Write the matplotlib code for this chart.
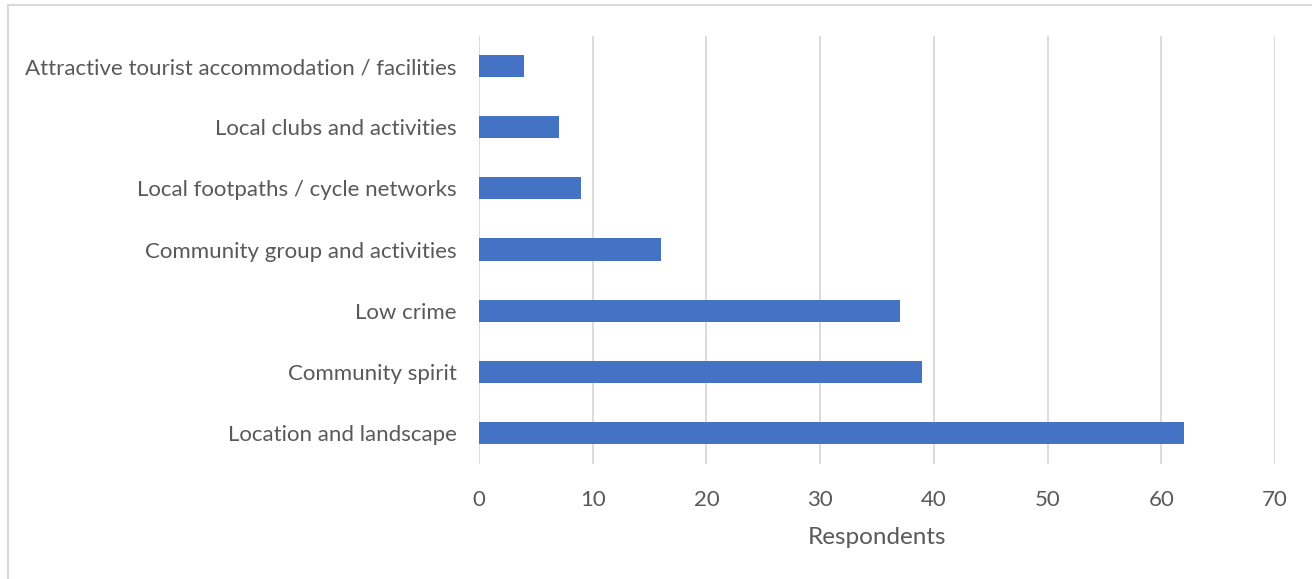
import matplotlib.pyplot as plt
from matplotlib.lines import Line2D

# Reasons respondents gave for liking the area
categories = ["Location and landscape", "Community spirit", "Low crime",
              "Community group and activities", "Local footpaths / cycle networks",
              "Local clubs and activities", "Attractive tourist accommodation / facilities"]
respondents = [62, 39, 37, 16, 9, 7, 4]
x_ticks = [0, 10, 20, 30, 40, 50, 60, 70]

plt.rcParams['font.family'] = ['Lato', 'DejaVu Sans']
text_col = "#595959"

fig = plt.figure(figsize=(13.12, 5.79), dpi=100)
ax = fig.add_axes([479/1312, 1 - 463.5/579, (1275 - 479)/1312, (463.5 - 35.5)/579])

ax.barh(range(len(categories)), respondents, height=0.36, color="#4472C4", zorder=3)

ax.set_xlim(0, 70)
ax.set_ylim(-0.5, len(categories) - 0.5)
ax.set_xticks(x_ticks)
ax.set_yticks(range(len(categories)))
ax.set_yticklabels(categories)
ax.tick_params(axis="both", length=0, colors=text_col, labelsize=16)
ax.tick_params(axis="y", pad=16)
ax.tick_params(axis="x", pad=19)
ax.grid(axis="x", color="#d9d9d9", linewidth=1.3, zorder=0)
for s in ax.spines.values():
    s.set_visible(False)

ax.set_xlabel("Respondents", fontsize=17.5, color=text_col, labelpad=12)

# Chart border (top and left edges)
fig.add_artist(Line2D([8/1312, 1], [1 - 5/579, 1 - 5/579], color="#d9d9d9", linewidth=1.5))
fig.add_artist(Line2D([8/1312, 8/1312], [0, 1 - 5/579], color="#d9d9d9", linewidth=1.5))

plt.savefig("out.png", dpi=100)
